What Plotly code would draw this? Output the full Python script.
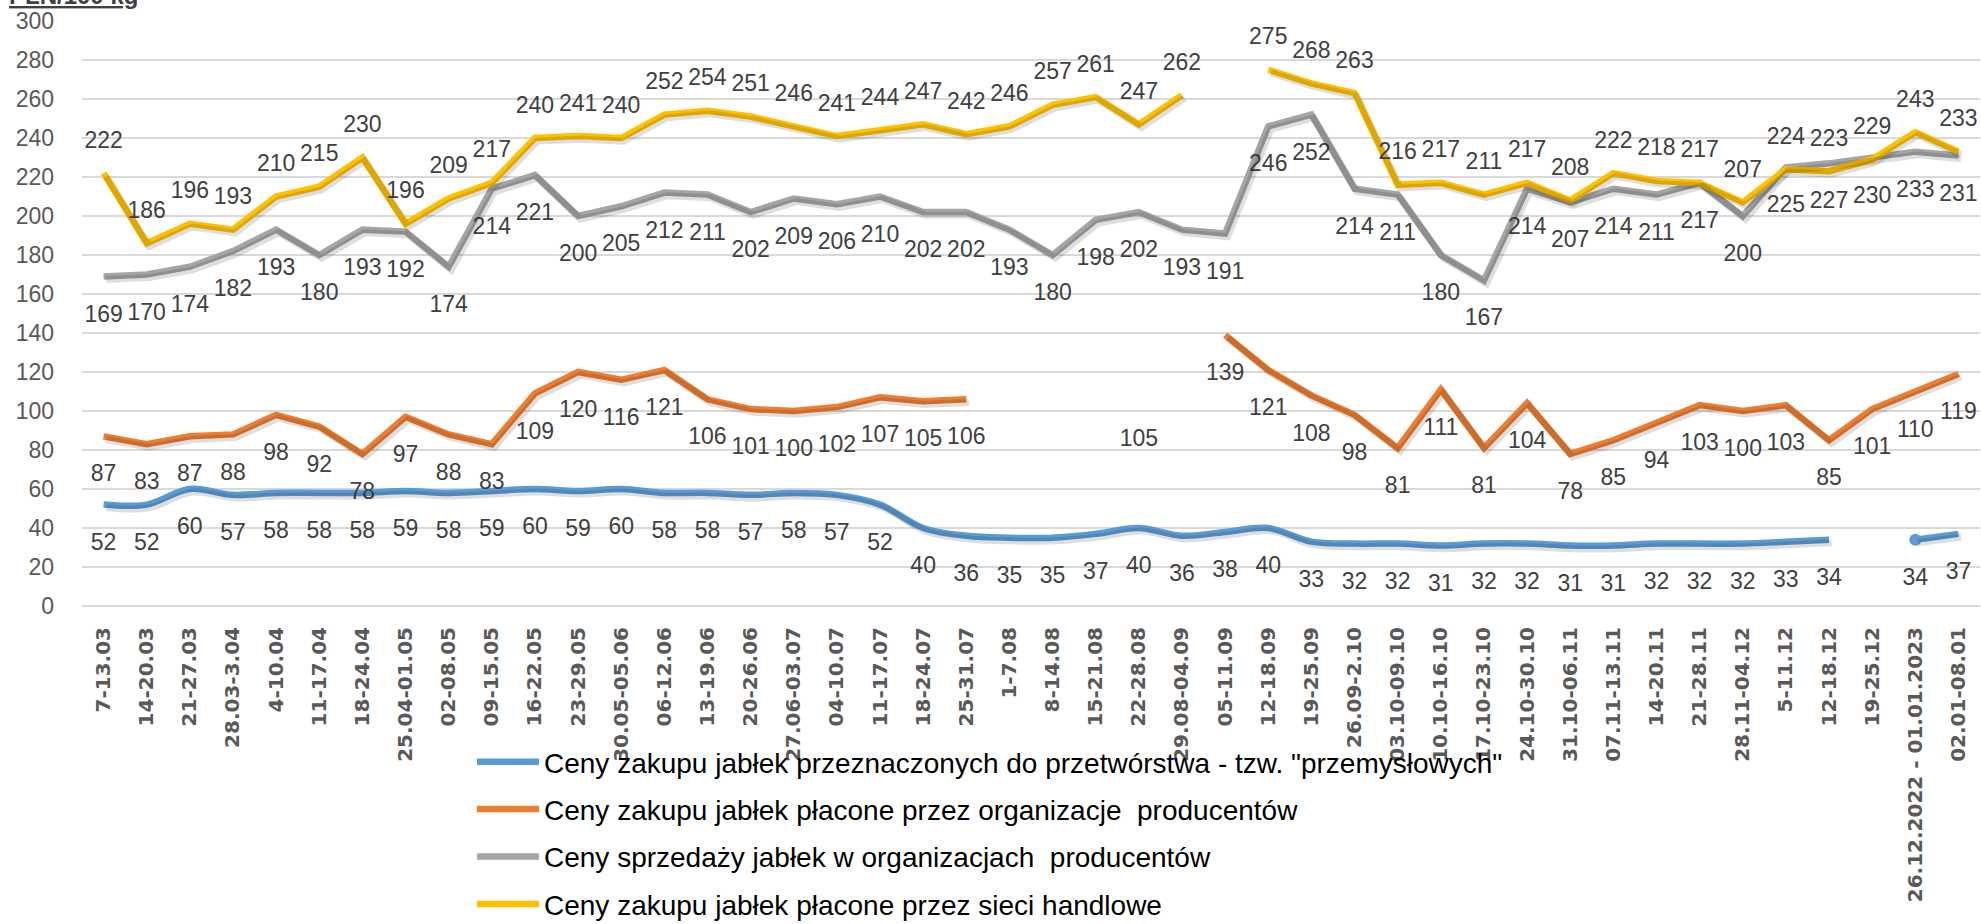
import plotly.graph_objects as go

categories = ["7-13.03", "14-20.03", "21-27.03", "28.03-3.04", "4-10.04", "11-17.04", "18-24.04",
              "25.04-01.05", "02-08.05", "09-15.05", "16-22.05", "23-29.05", "30.05-05.06", "06-12.06",
              "13-19.06", "20-26.06", "27.06-03.07", "04-10.07", "11-17.07", "18-24.07", "25-31.07",
              "1-7.08", "8-14.08", "15-21.08", "22-28.08", "29.08-04.09", "05-11.09", "12-18.09",
              "19-25.09", "26.09-2.10", "03.10-09.10", "10.10-16.10", "17.10-23.10", "24.10-30.10",
              "31.10-06.11", "07.11-13.11", "14-20.11", "21-28.11", "28.11-04.12", "5-11.12",
              "12-18.12", "19-25.12", "26.12.2022 - 01.01.2023", "02.01-08.01"]

# Ceny zakupu jabłek przeznaczonych do przetwórstwa
industrial = [52, 52, 60, 57, 58, 58, 58, 59, 58, 59, 60, 59, 60, 58, 58, 57, 58, 57, 52, 40, 36,
              35, 35, 37, 40, 36, 38, 40, 33, 32, 32, 31, 32, 32, 31, 31, 32, 32, 32, 33, 34, None,
              34, 37]
# Ceny zakupu jabłek płacone przez organizacje producentów
po_purchase = [87, 83, 87, 88, 98, 92, 78, 97, 88, 83, 109, 120, 116, 121, 106, 101, 100, 102, 107,
               105, 106, None, None, None, 105, None, 139, 121, 108, 98, 81, 111, 81, 104, 78, 85,
               94, 103, 100, 103, 85, 101, 110, 119]
# Ceny sprzedaży jabłek w organizacjach producentów
po_sale = [169, 170, 174, 182, 193, 180, 193, 192, 174, 214, 221, 200, 205, 212, 211, 202, 209, 206,
           210, 202, 202, 193, 180, 198, 202, 193, 191, 246, 252, 214, 211, 180, 167, 214, 207, 214,
           211, 217, 200, 225, 227, 230, 233, 231]
# Ceny zakupu jabłek płacone przez sieci handlowe
retail = [222, 186, 196, 193, 210, 215, 230, 196, 209, 217, 240, 241, 240, 252, 254, 251, 246, 241,
          244, 247, 242, 246, 257, 261, 247, 262, None, 275, 268, 263, 216, 217, 211, 217, 208, 222,
          218, 217, 207, 224, 223, 229, 243, 233]

names = ['Ceny zakupu jabłek przeznaczonych do przetwórstwa - tzw. "przemysłowych"',
         'Ceny zakupu jabłek płacone przez organizacje  producentów',
         'Ceny sprzedaży jabłek w organizacjach  producentów',
         'Ceny zakupu jabłek płacone przez sieci handlowe']
colors = ["#5B9BD5", "#ED7D31", "#A5A5A5", "#FFC000"]
series = [industrial, po_purchase, po_sale, retail]
shapes_ = ["spline", "linear", "linear", "linear"]
label_pos = ["bottom center", "bottom center", "bottom center", "top center"]
label_pad = [43, 43, 43, 30]

W, H = 1981, 924
fig = go.Figure()

# soft shadows (drawn on slightly shifted overlay axes)
for vals, col, shp in zip(series, colors, shapes_):
    fig.add_trace(go.Scatter(x=categories, y=vals, mode="lines", xaxis="x2", yaxis="y2",
                             line=dict(color="rgba(0,0,0,0.13)", width=7, shape=shp),
                             connectgaps=False, showlegend=False, hoverinfo="skip"))

for i, (vals, col, shp, nm) in enumerate(zip(series, colors, shapes_, names)):
    fig.add_trace(go.Scatter(x=categories, y=vals, mode="lines", name=nm,
                             line=dict(color=col, width=6.5, shape=shp),
                             connectgaps=False, legendgroup=f"g{i}"))

# dot at the start of a segment after a gap in the blue series
seg_start = [v if (i > 0 and industrial[i - 1] is None and v is not None) else None
             for i, v in enumerate(industrial)]
fig.add_trace(go.Scatter(x=categories, y=seg_start, mode="markers",
                         marker=dict(color=colors[0], size=12), showlegend=False, hoverinfo="skip"))

for vals, pos, pad in zip(series, label_pos, label_pad):
    fig.add_trace(go.Scatter(x=categories, y=vals, mode="markers+text",
                             text=["" if v is None else str(v) for v in vals],
                             textposition=pos,
                             textfont=dict(family="Liberation Sans", size=23, color="#404040"),
                             marker=dict(size=pad, color="rgba(0,0,0,0)"),
                             showlegend=False, hoverinfo="skip", cliponaxis=False))

ml, mr, mt, mb = 82, 1, 21, 318
ph = H - mt - mb
pw = W - ml - mr

fig.update_layout(
    width=W, height=H,
    margin=dict(l=ml, r=mr, t=mt, b=mb, pad=0, autoexpand=False),
    paper_bgcolor="white", plot_bgcolor="white",
    font=dict(family="Liberation Sans", color="#404040"),
    xaxis=dict(type="category", categoryorder="array", categoryarray=categories,
               range=[-0.5, len(categories) - 0.5], showgrid=False, showline=False,
               zeroline=False, ticks="", tickangle=-90, ticklabelstandoff=16, automargin=False,
               tickfont=dict(family="DejaVu Sans", size=20, color="#595959", weight="bold")),
    yaxis=dict(range=[0, 300], dtick=20, showgrid=True, gridcolor="#D9D9D9", gridwidth=1.5,
               zeroline=True, zerolinecolor="#D9D9D9", zerolinewidth=1.5, showline=False,
               ticks="", ticklabelstandoff=27, automargin=False,
               tickfont=dict(family="Liberation Sans", size=23, color="#595959")),
    xaxis2=dict(type="category", categoryorder="array", categoryarray=categories,
                range=[-0.5 - 0.06, len(categories) - 0.5 - 0.06], overlaying="x",
                visible=False, automargin=False),
    yaxis2=dict(range=[0 + 1.6, 300 + 1.6], overlaying="y", visible=False, automargin=False),
    legend=dict(xref="container", yref="container", x=472 / W, y=1 - 737 / H,
                xanchor="left", yanchor="top",
                orientation="v", bgcolor="rgba(0,0,0,0)", tracegroupgap=8, itemwidth=62,
                font=dict(family="Liberation Sans", size=28, color="#000000")),
    showlegend=True,
    annotations=[dict(text="<b><u>PLN/100 kg</u></b>", xref="paper", yref="paper",
                      x=(7 - ml) / pw, y=1 + 10 / ph, xanchor="left", yanchor="bottom",
                      showarrow=False,
                      font=dict(family="Liberation Sans", size=24, color="#404040"))],
)

fig.write_html("out.html", config={"displayModeBar": False},
               post_script="document.body.style.margin='0';")
